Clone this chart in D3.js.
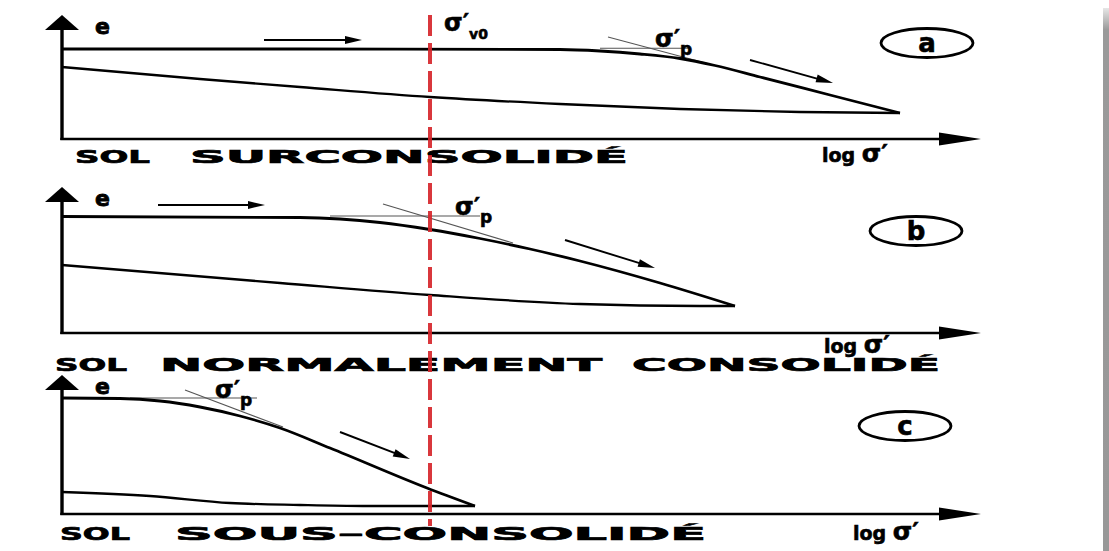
<!DOCTYPE html>
<html>
<head>
<meta charset="utf-8">
<script src="https://cdn.jsdelivr.net/npm/d3@7"></script>
<style>
  html, body { margin: 0; padding: 0; background: #ffffff; }
  svg { display: block; }
</style>
</head>
<body>
<svg id="chart" width="1109" height="551"></svg>
<script>
// Oedometer curves e – log σ' for three consolidation states.
// Horizontal values are log σ' (arbitrary units), vertical values are void ratio e.

const logSigmaMax = 9.19;          // end of the log σ' axis
const sigmaV0 = 3.68;              // in-situ effective stress σ'v0 (common to the three soils)
const panelLetters = ["a", "b", "c"];
const panelTitles = [
  ["SOL", "SURCONSOLIDÉ"],
  ["SOL", "NORMALEMENT", "CONSOLIDÉ"],
  ["SOL", "SOUS–CONSOLIDÉ"]
];
const eAxisMax = [1.24, 1.46, 1.39];

// (a) overconsolidated soil
const loadingA   = [[0,0.90],[2.38,0.90],[4.98,0.895],[5.38,0.88],[5.78,0.85],[6.18,0.805],[6.53,0.735],[6.98,0.62],[7.68,0.44],[8.38,0.26]];
const unloadingA = [[0,0.72],[1.38,0.60],[2.38,0.52],[3.68,0.42],[4.98,0.35],[6.18,0.30],[7.38,0.27],[8.38,0.26]];
const tangentsA  = [[[5.38,0.907],[6.28,0.907]], [[5.46,1.02],[6.51,0.74]]];
const sigmaPA    = [5.93, 0.92];
const arrowsA    = [[[2.02,0.99],[3.00,0.99]], [[6.88,0.79],[7.71,0.56]]];

// (b) normally consolidated soil
const loadingB   = [[0,1.165],[2.38,1.155],[2.78,1.14],[3.18,1.105],[3.68,1.035],[4.18,0.945],[4.68,0.84],[5.18,0.72],[5.98,0.50],[6.73,0.27]];
const unloadingB = [[0,0.68],[2.18,0.50],[3.68,0.38],[5.18,0.29],[6.38,0.27],[6.73,0.27]];
const tangentsB  = [[[2.68,1.17],[4.18,1.17]], [[3.21,1.29],[4.51,0.90]]];
const sigmaPB    = [3.93, 1.18];
const arrowsB    = [[[0.96,1.28],[2.03,1.28]], [[5.03,0.93],[5.93,0.65]]];

// (c) underconsolidated soil
const loadingC   = [[0,1.16],[0.58,1.155],[0.98,1.13],[1.38,1.07],[1.78,0.98],[2.18,0.86],[2.68,0.66],[3.65,0.26],[4.13,0.08]];
const unloadingC = [[0,0.22],[0.88,0.18],[1.68,0.11],[2.38,0.09],[3.01,0.08],[4.13,0.08]];
const tangentsC  = [[[0.68,1.16],[1.95,1.16]], [[1.23,1.24],[2.21,0.87]]];
const sigmaPC    = [1.53, 1.16];
const arrowsC    = [[[2.78,0.82],[3.48,0.55]]];

const loadings   = [loadingA, loadingB, loadingC];
const unloadings = [unloadingA, unloadingB, unloadingC];
const tangents   = [tangentsA, tangentsB, tangentsC];
const sigmaPs    = [sigmaPA, sigmaPB, sigmaPC];
const arrows     = [arrowsA, arrowsB, arrowsC];

// ---- layout ----
const W = 1109, H = 551;
const axisLeft = 62, axisRight = 981;
const panelLayout = [
  { base: 139, top: 15,  title: { y: 163, words: [[75,150],[190,628]] },
    logLabel: [822, 162], badge: [927, 43] },
  { base: 333, top: 187, title: { y: 371, words: [[55,127],[160,602],[632,940]] },
    logLabel: [824, 353], badge: [916, 231] },
  { base: 514, top: 375, title: { y: 540, words: [[60,130],[175,706]] },
    logLabel: [853, 540], badge: [905, 426] }
];

const svg = d3.select("#chart");
svg.append("rect").attr("width", W).attr("height", H).attr("fill", "#ffffff");

// shaded right edge
const defs = svg.append("defs");
const edgeGrad = defs.append("linearGradient").attr("id", "edgeFade")
  .attr("x1", 0).attr("y1", 0).attr("x2", 0).attr("y2", 1);
edgeGrad.append("stop").attr("offset", "0").attr("stop-color", "#e6e6e6");
edgeGrad.append("stop").attr("offset", "0.04").attr("stop-color", "#9a9a9a");
edgeGrad.append("stop").attr("offset", "1").attr("stop-color", "#989898");
svg.append("rect").attr("x", 1103).attr("y", 8).attr("width", 6).attr("height", H - 8)
  .attr("fill", "url(#edgeFade)");

const x = d3.scaleLinear().domain([0, logSigmaMax]).range([axisLeft, axisRight]);

const boldFont = "'DejaVu Sans', 'Liberation Sans', sans-serif";
const greekFont = "'DejaVu Sans', sans-serif";

function arrowHead(g, tip, from, len, half) {
  const dx = tip[0] - from[0], dy = tip[1] - from[1];
  const L = Math.hypot(dx, dy), ux = dx / L, uy = dy / L;
  const bx = tip[0] - ux * len, by = tip[1] - uy * len;
  g.append("path")
    .attr("d", `M${tip[0]},${tip[1]}L${bx - uy * half},${by + ux * half}L${bx + uy * half},${by - ux * half}Z`)
    .attr("fill", "#000");
}

// σ with a prime and an optional subscript, as one text element
function sigmaLabel(g, px, py, size, sub, subSize) {
  const t = g.append("text").attr("x", px).attr("y", py)
    .attr("font-family", greekFont).attr("font-weight", "bold").attr("font-size", size)
    .attr("stroke", "#000").attr("stroke-width", 0.6);
  t.append("tspan").text("σ′");
  if (sub) t.append("tspan").attr("font-size", subSize).attr("dy", size * 0.32).text(sub);
  return t;
}

panelLayout.forEach((lay, i) => {
  const y = d3.scaleLinear().domain([0, eAxisMax[i]]).range([lay.base, lay.top]);
  const g = svg.append("g").attr("class", "panel-" + panelLetters[i]);
  const line = d3.line().x(d => x(d[0])).y(d => y(d[1]));
  const smooth = d3.line().x(d => x(d[0])).y(d => y(d[1])).curve(d3.curveMonotoneX);

  // axes
  g.append("line").attr("x1", x(0)).attr("x2", x(0))
    .attr("y1", y(0) + 1).attr("y2", y(eAxisMax[i]) + 12)
    .attr("stroke", "#000").attr("stroke-width", 3.4);
  arrowHead(g, [x(0), y(eAxisMax[i])], [x(0), y(0)], 15, 17);

  g.append("line").attr("x1", x(0) - 1.7).attr("x2", x(logSigmaMax) - 30)
    .attr("y1", y(0)).attr("y2", y(0))
    .attr("stroke", "#000").attr("stroke-width", 2.4);
  arrowHead(g, [x(logSigmaMax), y(0)], [x(0), y(0)], 42, 6.5);

  // tangent construction for σ'p
  tangents[i].forEach(t => {
    g.append("path").attr("d", line(t)).attr("fill", "none")
      .attr("stroke", "#555").attr("stroke-width", 1.1);
  });

  // unloading and loading curves
  g.append("path").attr("d", smooth(unloadings[i])).attr("fill", "none")
    .attr("stroke", "#000").attr("stroke-width", 2.3).attr("stroke-linejoin", "round");
  g.append("path").attr("d", smooth(loadings[i])).attr("fill", "none")
    .attr("stroke", "#000").attr("stroke-width", 2.8).attr("stroke-linejoin", "round");

  // direction arrows
  arrows[i].forEach(a => {
    const p0 = [x(a[0][0]), y(a[0][1])], p1 = [x(a[1][0]), y(a[1][1])];
    const L = Math.hypot(p1[0] - p0[0], p1[1] - p0[1]);
    const k = (L - 12) / L;
    g.append("line").attr("x1", p0[0]).attr("y1", p0[1])
      .attr("x2", p0[0] + (p1[0] - p0[0]) * k).attr("y2", p0[1] + (p1[1] - p0[1]) * k)
      .attr("stroke", "#000").attr("stroke-width", 1.9);
    arrowHead(g, p1, p0, 17, 4);
  });

  // axis label e
  g.append("text").attr("x", x(0) + 33).attr("y", y(eAxisMax[i]) + 19)
    .attr("font-family", boldFont).attr("font-weight", "bold").attr("font-size", 22)
    .attr("stroke", "#000").attr("stroke-width", 0.8)
    .text("e");

  // σ'p label
  const sp = sigmaPs[i];
  sigmaLabel(g, x(sp[0]), y(sp[1]), 24, "p", 17);

  // log σ' label
  const ll = g.append("text").attr("x", lay.logLabel[0]).attr("y", lay.logLabel[1])
    .attr("font-family", boldFont).attr("font-weight", "bold").attr("font-size", 19)
    .attr("stroke", "#000").attr("stroke-width", 0.6);
  ll.append("tspan").text("log ");
  ll.append("tspan").attr("font-family", greekFont).attr("font-size", 25).text("σ′");

  // circled letter
  g.append("ellipse").attr("cx", lay.badge[0]).attr("cy", lay.badge[1])
    .attr("rx", 46).attr("ry", 14.5).attr("fill", "none")
    .attr("stroke", "#000").attr("stroke-width", 2.8);
  g.append("text").attr("x", lay.badge[0]).attr("y", lay.badge[1] + 9)
    .attr("text-anchor", "middle")
    .attr("font-family", boldFont).attr("font-weight", "bold").attr("font-size", 26)
    .attr("stroke", "#000").attr("stroke-width", 0.6)
    .text(panelLetters[i]);

  // title words, wide extended lettering
  panelTitles[i].forEach((w, k) => {
    const span = lay.title.words[k];
    g.append("text").attr("x", span[0]).attr("y", lay.title.y)
      .attr("font-family", boldFont).attr("font-weight", "bold").attr("font-size", 18)
      .attr("stroke", "#000").attr("stroke-width", 0.7)
      .attr("textLength", span[1] - span[0]).attr("lengthAdjust", "spacingAndGlyphs")
      .text(w);
  });
});

// σ'v0 : dashed red vertical line across all three diagrams
svg.append("line").attr("x1", x(sigmaV0)).attr("x2", x(sigmaV0))
  .attr("y1", 15).attr("y2", 526)
  .attr("stroke", "#d6262b").attr("stroke-opacity", 0.92)
  .attr("stroke-width", 4).attr("stroke-dasharray", "21 7");

sigmaLabel(svg, x(sigmaV0) + 14, 31, 24, "v0", 14);
</script>
</body>
</html>
